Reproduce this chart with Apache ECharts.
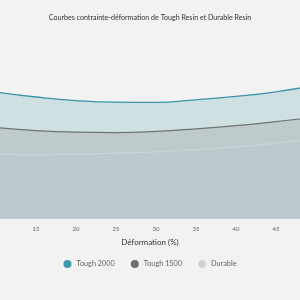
<!DOCTYPE html>
<html>
<head>
<meta charset="utf-8">
<script src="https://cdn.jsdelivr.net/npm/echarts@6/dist/echarts.min.js"></script>
<style>
html, body { margin: 0; padding: 0; background: #f2f2f2; }
#chart { width: 300px; height: 300px; }
</style>
</head>
<body>
<div id="chart"></div>
<script>
// déformation (%)
var strain = [10, 15, 20, 25, 30, 35, 40, 45, 50];
// contrainte
var tough2000 = [63.5, 61.0, 59.2, 58.4, 58.3, 59.6, 61.3, 63.6, 67.0];
var tough1500 = [45.8, 44.2, 43.4, 43.2, 43.8, 45.1, 46.7, 48.7, 51.0];
var durable = [32.4, 32.1, 32.3, 32.9, 33.6, 34.7, 36.0, 37.9, 40.0];
var xTicks = [15, 20, 25, 30, 35, 40, 45];

function pairs(ys) {
    var out = [];
    for (var i = 0; i < strain.length; i++) {
        out.push([strain[i], ys[i]]);
    }
    return out;
}

var myChart = echarts.init(document.getElementById('chart'));
var option = {
    backgroundColor: '#f2f2f2',
    animation: false,
    title: {
        text: 'Courbes contrainte-déformation de Tough Resin et Durable Resin',
        left: 'center',
        top: 9,
        textStyle: { fontSize: 7.1, fontWeight: 'normal', color: '#333', fontFamily: 'Lato' }
    },
    legend: {
        bottom: 27,
        left: 'center',
        icon: 'circle',
        itemWidth: 8,
        itemHeight: 8,
        itemGap: 16,
        textStyle: { fontSize: 7.3, color: '#666', fontFamily: 'Lato' },
        data: ['Tough 2000', 'Tough 1500', 'Durable']
    },
    grid: { left: 0, right: 0, top: 19, bottom: 81 },
    xAxis: {
        type: 'value',
        min: 10.5,
        max: 48,
        name: 'Déformation (%)',
        nameLocation: 'middle',
        nameGap: 19,
        nameTextStyle: { fontSize: 8, color: '#333', fontFamily: 'Lato' },
        axisLine: { show: false },
        axisTick: { show: false },
        splitLine: { show: false },
        axisLabel: {
            customValues: xTicks,
            fontSize: 6,
            color: '#666',
            margin: 7,
            fontFamily: 'Lato'
        }
    },
    yAxis: {
        type: 'value',
        min: 0,
        max: 100,
        show: false
    },
    series: [{
        name: 'Tough 2000',
        type: 'line',
        smooth: true,
        symbol: 'none',
        color: '#3d9aad',
        lineStyle: { color: '#3a95a8', width: 1.3 },
        areaStyle: { color: '#cfe0e3', opacity: 1 },
        data: pairs(tough2000)
    }, {
        name: 'Tough 1500',
        type: 'line',
        smooth: true,
        symbol: 'none',
        color: '#6b716f',
        lineStyle: { color: '#6e7471', width: 1.3 },
        areaStyle: { color: '#bfcacd', opacity: 1 },
        data: pairs(tough1500)
    }, {
        name: 'Durable',
        type: 'line',
        smooth: true,
        symbol: 'none',
        color: '#cfd5d9',
        lineStyle: { color: '#cbd3d6', width: 1.3 },
        areaStyle: { color: '#bec9cd', opacity: 1 },
        data: pairs(durable)
    }]
};
myChart.setOption(option);
</script>
</body>
</html>
